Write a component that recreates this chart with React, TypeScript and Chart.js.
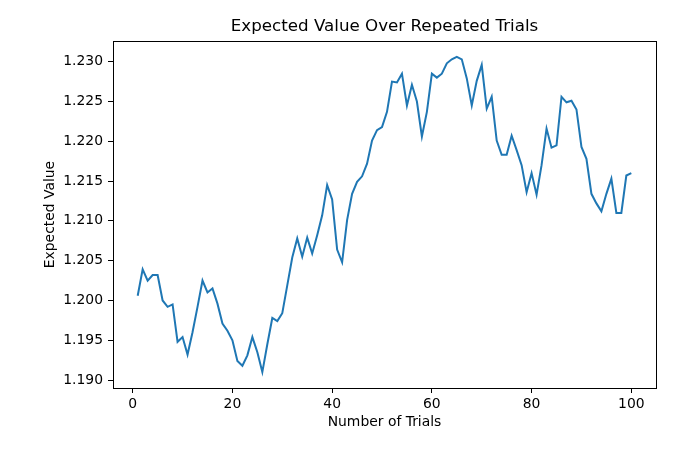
import React, { useEffect, useRef } from "react";
import { Chart, registerables } from "chart.js";

Chart.register(...registerables);

// trial number 1..100 and the expected value
const trials: number[] = Array.from({ length: 100 }, (_, i) => i + 1);

const expectedValues: number[] = [
	1.2006, 1.2039, 1.2025, 1.2032, 1.2032, 1.2, 1.1992, 1.1995, 1.1948, 1.1954,
	1.1932, 1.196, 1.1992, 1.2025, 1.201, 1.2015, 1.1996, 1.1971, 1.1962, 1.195,
	1.1924, 1.1918, 1.1931, 1.1954, 1.1935, 1.191, 1.1945, 1.1978, 1.1974, 1.1984,
	1.2019, 1.2054, 1.2078, 1.2055, 1.2079, 1.2059, 1.2082, 1.2107, 1.2145, 1.2127,
	1.2064, 1.2048, 1.2101, 1.2134, 1.2149, 1.2156, 1.2172, 1.2201, 1.2214, 1.2218,
	1.2237, 1.2275, 1.2274, 1.2285, 1.2245, 1.2271, 1.225, 1.2206, 1.2237, 1.2285,
	1.228, 1.2285, 1.2298, 1.2303, 1.2306, 1.2303, 1.2279, 1.2245, 1.2276, 1.2296,
	1.2241, 1.2256, 1.2201, 1.2183, 1.2183, 1.2207, 1.2189, 1.217, 1.2136, 1.216,
	1.2133, 1.217, 1.2216, 1.2192, 1.2195, 1.2256, 1.2249, 1.2251, 1.224, 1.2193,
	1.2178, 1.2134, 1.2122, 1.2112, 1.2134, 1.2153, 1.211, 1.211, 1.2157, 1.216,
];

const xTicks: number[] = [0, 20, 40, 60, 80, 100];
const yTicks: number[] = [1.19, 1.195, 1.2, 1.205, 1.21, 1.215, 1.22, 1.225, 1.23];

const FONT = "'DejaVu Sans', sans-serif";

// draws the top and right spines so the plot has a full box like matplotlib
const frameBox = {
	id: "frameBox",
	afterDraw(chart: Chart) {
		const { ctx, chartArea } = chart;
		ctx.save();
		ctx.strokeStyle = "#000";
		ctx.lineWidth = 1;
		ctx.strokeRect(
			Math.round(chartArea.left) + 0.5,
			Math.round(chartArea.top) + 0.5,
			Math.round(chartArea.right - chartArea.left),
			Math.round(chartArea.bottom - chartArea.top)
		);
		ctx.restore();
	},
};

const App: React.FC = () => {
	const chartRef = useRef<HTMLCanvasElement>(null);

	useEffect(() => {
		document.body.style.margin = "0";
		if (!chartRef.current) return;

		const myChart = new Chart(chartRef.current, {
			type: "line",
			data: {
				datasets: [
					{
						data: trials.map((t, i) => ({ x: t, y: expectedValues[i] })),
						borderColor: "#1f77b4",
						borderWidth: 2,
						pointRadius: 0,
						tension: 0,
						fill: false,
					},
				],
			},
			options: {
				responsive: false,
				animation: false,
				layout: { padding: { left: 0, right: 44, top: 0, bottom: 0 } },
				plugins: {
					legend: { display: false },
					tooltip: { enabled: false },
					title: {
						display: true,
						text: "Expected Value Over Repeated Trials",
						fullSize: false,
						color: "#000",
						font: { family: FONT, size: 16.7, weight: "normal", lineHeight: 1.2 },
						padding: { top: 17, bottom: 4 },
					},
				},
				scales: {
					x: {
						type: "linear",
						min: -3.95,
						max: 104.95,
						afterBuildTicks: (scale: any) => {
							scale.ticks = xTicks.map((v) => ({ value: v }));
						},
						afterFit: (scale: any) => {
							scale.height = 62;
						},
						ticks: {
							color: "#000",
							font: { family: FONT, size: 13.9 },
							padding: 3,
							maxRotation: 0,
							callback: (v: any) => String(v),
						},
						grid: {
							drawOnChartArea: false,
							drawTicks: true,
							tickLength: 5,
							color: "#000",
							lineWidth: 1,
						},
						border: { display: true, color: "#000", width: 1 },
						title: {
							display: true,
							text: "Number of Trials",
							color: "#000",
							font: { family: FONT, size: 13.9, lineHeight: 1.2 },
							padding: { top: 0, bottom: 19 },
						},
					},
					y: {
						type: "linear",
						min: 1.189,
						max: 1.2326,
						afterBuildTicks: (scale: any) => {
							scale.ticks = yTicks.map((v) => ({ value: v }));
						},
						afterFit: (scale: any) => {
							scale.width = 113;
						},
						ticks: {
							color: "#000",
							font: { family: FONT, size: 13.9 },
							padding: 5,
							callback: (v: any) => Number(v).toFixed(3),
						},
						grid: {
							drawOnChartArea: false,
							drawTicks: true,
							tickLength: 5,
							color: "#000",
							lineWidth: 1,
						},
						border: { display: true, color: "#000", width: 1 },
						title: {
							display: true,
							text: "Expected Value",
							color: "#000",
							font: { family: FONT, size: 13.9, lineHeight: 1.2 },
							padding: { top: 42, bottom: 0 },
						},
					},
				},
			},
			plugins: [frameBox],
		});

		return () => {
			myChart.destroy();
		};
	}, []);

	return <canvas ref={chartRef} width={700} height={450} style={{ display: "block" }} />;
};

export default App;
